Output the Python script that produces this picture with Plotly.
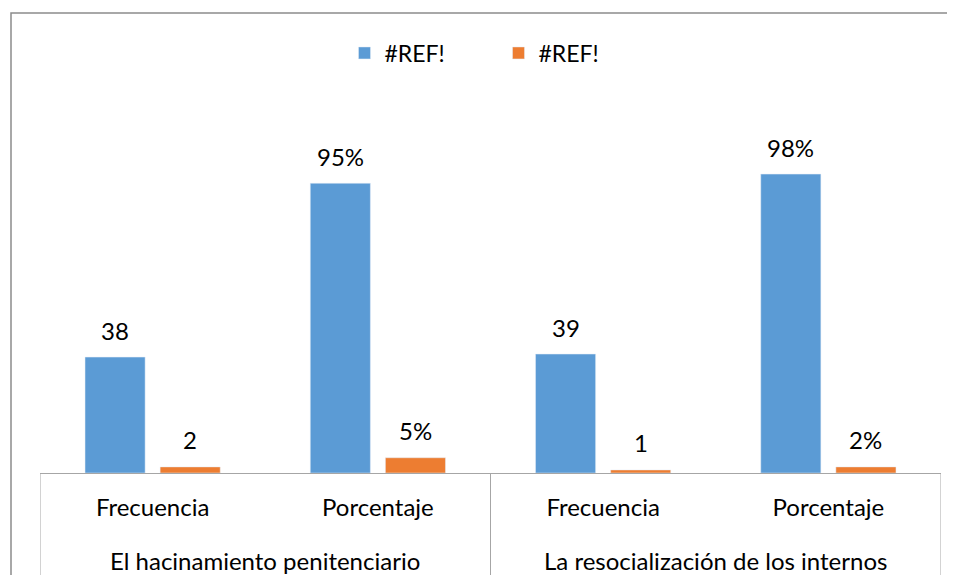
import plotly.graph_objects as go

groups = ["El hacinamiento penitenciario", "La resocialización de los internos"]
subcats = ["Frecuencia", "Porcentaje"]
series_names = ["#REF!", "#REF!"]
series1_values = [38, 95, 39, 98]
series1_labels = ["38", "95%", "39", "98%"]
series2_values = [2, 5, 1, 2]
series2_labels = ["2", "5%", "1", "2%"]
colors = ["#5B9BD5", "#ED7D31"]

FONT = "Lato"
FS = 24
PLOT_H = 305
PLOT_W = 901

# one category per (group, subcategory) pair
cats = [f"{g}|{s}" for g in groups for s in subcats]
tick_text = [s for g in groups for s in subcats]

fig = go.Figure()
series = [(series_names[0], series1_values, series1_labels, colors[0], -37.5),
          (series_names[1], series2_values, series2_labels, colors[1], 37.5)]
annotations = []
for name, vals, labels, col, shift in series:
    fig.add_trace(go.Bar(x=cats, y=vals, name=name, marker_color=col))
    for c, v, lab in zip(cats, vals, labels):
        annotations.append(dict(x=c, y=v, xref="x", yref="y", text=lab, showarrow=False,
                                xshift=shift, yshift=27, yanchor="middle",
                                font=dict(family=FONT, size=FS, color="#000000")))

# group labels centred under each group of sub-categories
n_sub = len(subcats)
for gi, g in enumerate(groups):
    annotations.append(dict(x=gi * n_sub + (n_sub - 1) / 2, y=-87 / PLOT_H, xref="x", yref="paper",
                            text=g, showarrow=False, yanchor="middle",
                            font=dict(family=FONT, size=FS, color="#000000")))

shapes = []
# group dividers
for b in range(len(groups) + 1):
    xb = b * n_sub - 0.5
    shapes.append(dict(type="line", xref="x", yref="paper", x0=xb, x1=xb, y0=0, y1=-103 / PLOT_H,
                       line=dict(color="#A6A6A6", width=1)))
# chart border (left and top sides visible in the crop)
bx0 = (3 - 32) / PLOT_W
by1 = 1 + (160 - 5) / PLOT_H
shapes.append(dict(type="path", xref="paper", yref="paper",
                   path=f"M {bx0},-0.5 L {bx0},{by1} L 1.2,{by1}",
                   line=dict(color="#8C8C8C", width=1.5), layer="below"))

fig.update_layout(
    width=939, height=567,
    margin=dict(l=32, r=6, t=160, b=102, autoexpand=False),
    paper_bgcolor="white", plot_bgcolor="white",
    barmode="group", bargap=0.333, bargroupgap=0.2,
    font=dict(family=FONT, size=FS, color="#000000"),
    showlegend=True,
    legend=dict(orientation="h", x=0.5 + 8 / PLOT_W, xanchor="center", y=1 + 115 / PLOT_H, yanchor="middle",
                entrywidth=109, font=dict(family=FONT, size=23, color="#000000"),
                itemclick=False, bgcolor="rgba(0,0,0,0)"),
    xaxis=dict(type="category", showline=True, linecolor="#A6A6A6", linewidth=1,
               tickvals=cats, ticktext=tick_text, ticklabelstandoff=13,
               tickfont=dict(family=FONT, size=FS, color="#000000"),
               ticks="", showgrid=False, range=[-0.5, len(cats) - 0.5]),
    yaxis=dict(range=[0, 100], visible=False, showgrid=False),
    annotations=annotations,
    shapes=shapes,
)

fig.write_html("out.html")
